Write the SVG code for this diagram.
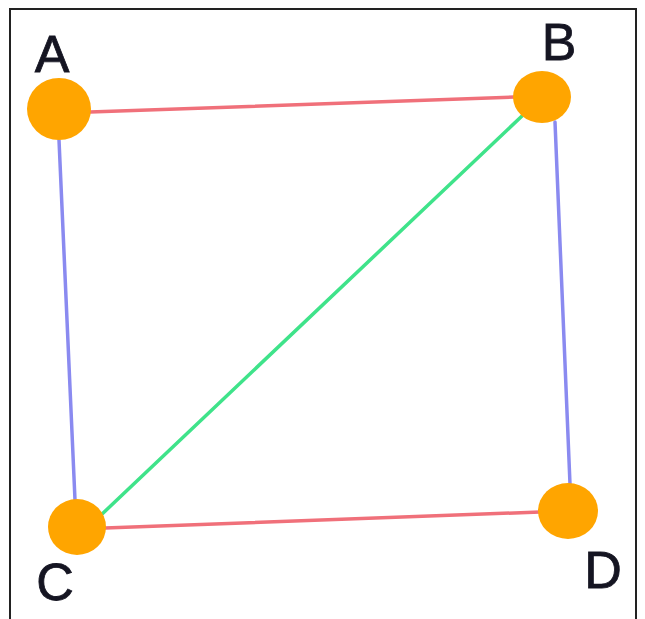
<svg xmlns="http://www.w3.org/2000/svg" width="645" height="619" viewBox="0 0 645 619">
<style>
.edge{fill:none;stroke-width:3.5;stroke-linecap:round}
.red{stroke:#f0707a}
.blue{stroke:#8a8af0}
.green{stroke:#3fe38a}
.node{fill:#ffa500}
.lbl{font-family:"Liberation Sans",Arial,sans-serif;font-size:52px;fill:#151522;stroke:#151522;stroke-width:0.8;text-anchor:middle}
</style>
<rect x="0" y="0" width="645" height="619" fill="#ffffff"/>
<path d="M10,630 L10,9 L636,9 L636,630" fill="none" stroke="#222" stroke-width="2"/>
<g id="connectors">
<line class="edge red" x1="90" y1="112" x2="514" y2="97"/>
<line class="edge blue" x1="59" y1="140" x2="75" y2="500"/>
<line class="edge blue" x1="555" y1="122" x2="570" y2="484"/>
<line class="edge red" x1="105" y1="528" x2="540" y2="512"/>
<line class="edge green" x1="522" y1="116" x2="100" y2="516"/>
</g>
<g id="node-A"><ellipse class="node" cx="59" cy="109" rx="32" ry="31"/><text class="lbl" x="52" y="72">A</text></g>
<g id="node-B"><ellipse class="node" cx="542" cy="97" rx="29" ry="26"/><text class="lbl" x="559" y="60">B</text></g>
<g id="node-C"><ellipse class="node" cx="77" cy="527" rx="29" ry="28"/><text class="lbl" x="55" y="600">C</text></g>
<g id="node-D"><ellipse class="node" cx="568" cy="511" rx="30" ry="28"/><text class="lbl" x="603" y="588">D</text></g>
</svg>
